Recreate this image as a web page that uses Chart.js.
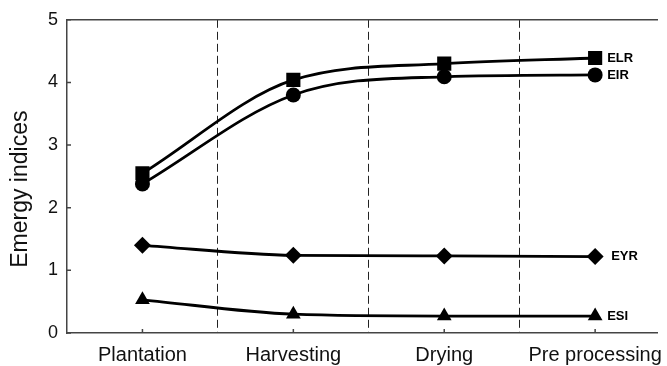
<!DOCTYPE html>
<html>
<head>
<meta charset="utf-8">
<script src="https://cdn.jsdelivr.net/npm/chart.js@4.4.1/dist/chart.umd.min.js"></script>
<style>
html,body{margin:0;padding:0;background:#fff;overflow:hidden;}
#wrap{position:relative;width:667px;height:366px;}
</style>
</head>
<body>
<div id="wrap"><canvas id="c"></canvas></div>
<script>
const categories = ['Plantation', 'Harvesting', 'Drying', 'Pre processing'];
const ELR = [2.55, 4.04, 4.30, 4.39];
const EIR = [2.38, 3.80, 4.09, 4.12];
const EYR = [1.40, 1.24, 1.23, 1.22];
const ESI = [0.53, 0.30, 0.27, 0.27];
const yTicks = [0, 1, 2, 3, 4, 5];
const dividers = [1.5, 2.5, 3.5];

const FONT = "'Liberation Sans', Arial, Helvetica, sans-serif";
const toPts = arr => arr.map((v, i) => ({x: i + 1, y: v}));

function series(label, values, style, radius) {
  return {
    label, data: toPts(values),
    borderColor: '#000', backgroundColor: '#000',
    borderWidth: 2.8,
    pointStyle: style, pointRadius: radius, pointHoverRadius: radius,
    pointBackgroundColor: '#000', pointBorderColor: '#000', pointBorderWidth: 0,
    cubicInterpolationMode: 'monotone', fill: false
  };
}

const labelGap = {ELR: 12, EIR: 12, EYR: 16, ESI: 12};

const extras = {
  id: 'extras',
  afterDraw(chart) {
    const ctx = chart.ctx;
    const xs = chart.scales.x, ys = chart.scales.y;
    ctx.save();
    ctx.strokeStyle = '#444';
    ctx.lineWidth = 1.5;
    ctx.beginPath();
    yTicks.forEach(v => {
      const py = ys.getPixelForValue(v);
      ctx.moveTo(ys.right, py); ctx.lineTo(ys.right + 4, py);
    });
    categories.forEach((c, i) => {
      const px = xs.getPixelForValue(i + 1);
      ctx.moveTo(px, xs.top); ctx.lineTo(px, xs.top - 4);
    });
    ctx.stroke();
    ctx.restore();
  },
  afterDatasetsDraw(chart) {
    const ctx = chart.ctx;
    ctx.save();
    ctx.fillStyle = '#000';
    ctx.font = "bold 13px " + FONT;
    ctx.textAlign = 'left';
    ctx.textBaseline = 'middle';
    chart.data.datasets.forEach((ds, i) => {
      const meta = chart.getDatasetMeta(i);
      const last = meta.data[meta.data.length - 1];
      ctx.fillText(ds.label, last.x + labelGap[ds.label], last.y);
    });
    ctx.restore();
  }
};

new Chart(document.getElementById('c'), {
  type: 'line',
  data: {
    datasets: [
      series('ELR', ELR, 'rect', 10),
      series('EIR', EIR, 'circle', 7.5),
      series('EYR', EYR, 'rectRot', 8.5),
      series('ESI', ESI, 'triangle', 8.5)
    ]
  },
  options: {
    responsive: true,
    maintainAspectRatio: false,
    animation: false,
    events: [],
    layout: {padding: {top: 19, right: 0, left: 0, bottom: 0}},
    plugins: {legend: {display: false}, tooltip: {enabled: false}},
    scales: {
      x: {
        type: 'linear', position: 'bottom', min: 0.5, max: 4.41,
        afterBuildTicks: s => { s.ticks = categories.map((c, i) => ({value: i + 1})); },
        afterFit: s => { s.height = 33; s.paddingLeft = 0; s.paddingRight = 0; },
        ticks: {
          callback: v => categories[v - 1] || '',
          font: {family: FONT, size: 20}, color: '#111', padding: 10, maxRotation: 0, autoSkip: false
        },
        grid: {display: false, drawTicks: false},
        border: {display: true, color: '#444', width: 1.5}
      },
      xDiv: {
        type: 'linear', position: 'bottom', min: 0.5, max: 4.41,
        afterBuildTicks: s => { s.ticks = dividers.map(v => ({value: v})); },
        afterFit: s => { s.height = 0; s.paddingLeft = 0; s.paddingRight = 0; },
        ticks: {display: false},
        grid: {display: true, drawTicks: false, color: '#222', lineWidth: 1},
        border: {display: false, dash: [8, 4]}
      },
      xTop: {
        type: 'linear', position: 'top', min: 0, max: 1,
        afterFit: s => { s.height = 0; s.paddingLeft = 0; s.paddingRight = 0; },
        ticks: {display: false},
        grid: {display: false, drawTicks: false},
        border: {display: true, color: '#444', width: 1.5}
      },
      y: {
        type: 'linear', min: 0, max: 5,
        afterBuildTicks: s => { s.ticks = yTicks.map(v => ({value: v})); },
        afterFit: s => { s.width = 67; },
        ticks: {font: {family: FONT, size: 18}, color: '#111', padding: 9},
        grid: {display: false, drawTicks: false},
        border: {display: true, color: '#444', width: 1.5},
        title: {
          display: true, text: 'Emergy indices    ',
          font: {family: FONT, size: 23}, color: '#111',
          padding: {top: 7, bottom: 0}
        }
      }
    }
  },
  plugins: [extras]
});
</script>
</body>
</html>
